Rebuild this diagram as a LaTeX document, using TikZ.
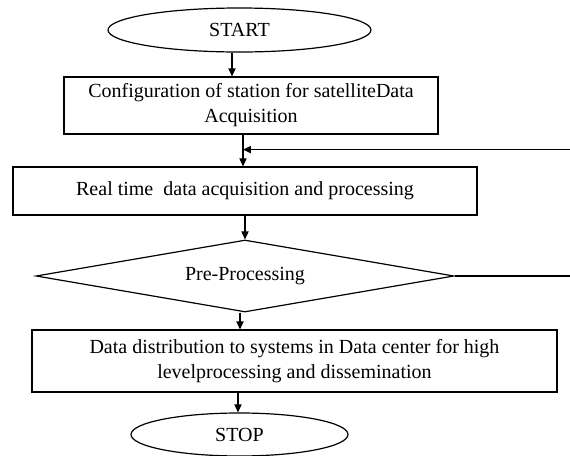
\documentclass[tikz,border=0pt]{standalone}
\usepackage{fontspec}
\setmainfont{Liberation Serif}
\usetikzlibrary{arrows.meta,shapes.geometric}
\tikzset{
  >={Triangle[length=4pt,width=3.6pt]},
  term/.style={ellipse,draw,inner sep=0pt},
  proc/.style={rectangle,draw,align=center,inner sep=0pt},
  dec/.style={diamond,draw,aspect=5.8,inner sep=0pt},
  flow/.style={->, line width=0.6pt}
}

\begin{document}
\begin{tikzpicture}[x=0.5pt, y=-0.5pt, line width=0.6pt, font=\fontsize{10}{12.5}\selectfont]
    \useasboundingbox (0,0) rectangle (570,456);
    \clip (0,0) rectangle (570,456);

    % Start / stop terminals
    \node[term, minimum width=131.5pt, minimum height=22pt] (start) at (239.5,30) {START};
    \node[term, minimum width=108.5pt, minimum height=21.5pt] (stop) at (239.5,434.5) {STOP};

    % Process steps
    \node[proc, minimum width=187pt, minimum height=28.5pt] (cfg) at (251,105.5)
        {Configuration of station for satelliteData\\Acquisition};
    \node[proc, minimum width=232pt, minimum height=24pt] (acq) at (245,191)
        {Real time\ \ data acquisition and processing};
    \node[dec, minimum width=209pt, minimum height=36pt] (pre) at (245,276) {Pre-Processing};
    \node[proc, minimum width=262.5pt, minimum height=31pt] (dist) at (294.5,361)
        {Data distribution to systems in Data center for high\\levelprocessing and dissemination};

    % Main flow
    \draw[flow] ([xshift=-3.75pt]start.south) -- ([xshift=-3.75pt]start.south |- cfg.north);
    \draw[flow] ([xshift=-4pt]cfg.south) -- ([xshift=-4pt]cfg.south |- acq.north);
    \draw[flow] (acq.south) -- (pre.north);
    \draw[flow] ([xshift=-2.5pt]pre.south) -- ([xshift=-2.5pt]pre.south |- dist.north);
    \draw[flow] ([xshift=-0.75pt]stop.north |- dist.south) -- ([xshift=-0.75pt]stop.north);

    % Loop back from pre-processing
    \coordinate (join) at ([xshift=-4pt,yshift=-7.5pt]cfg.south);
    \draw[flow] (pre.east) -- ++(150,0) |- (join);
\end{tikzpicture}
\end{document}
